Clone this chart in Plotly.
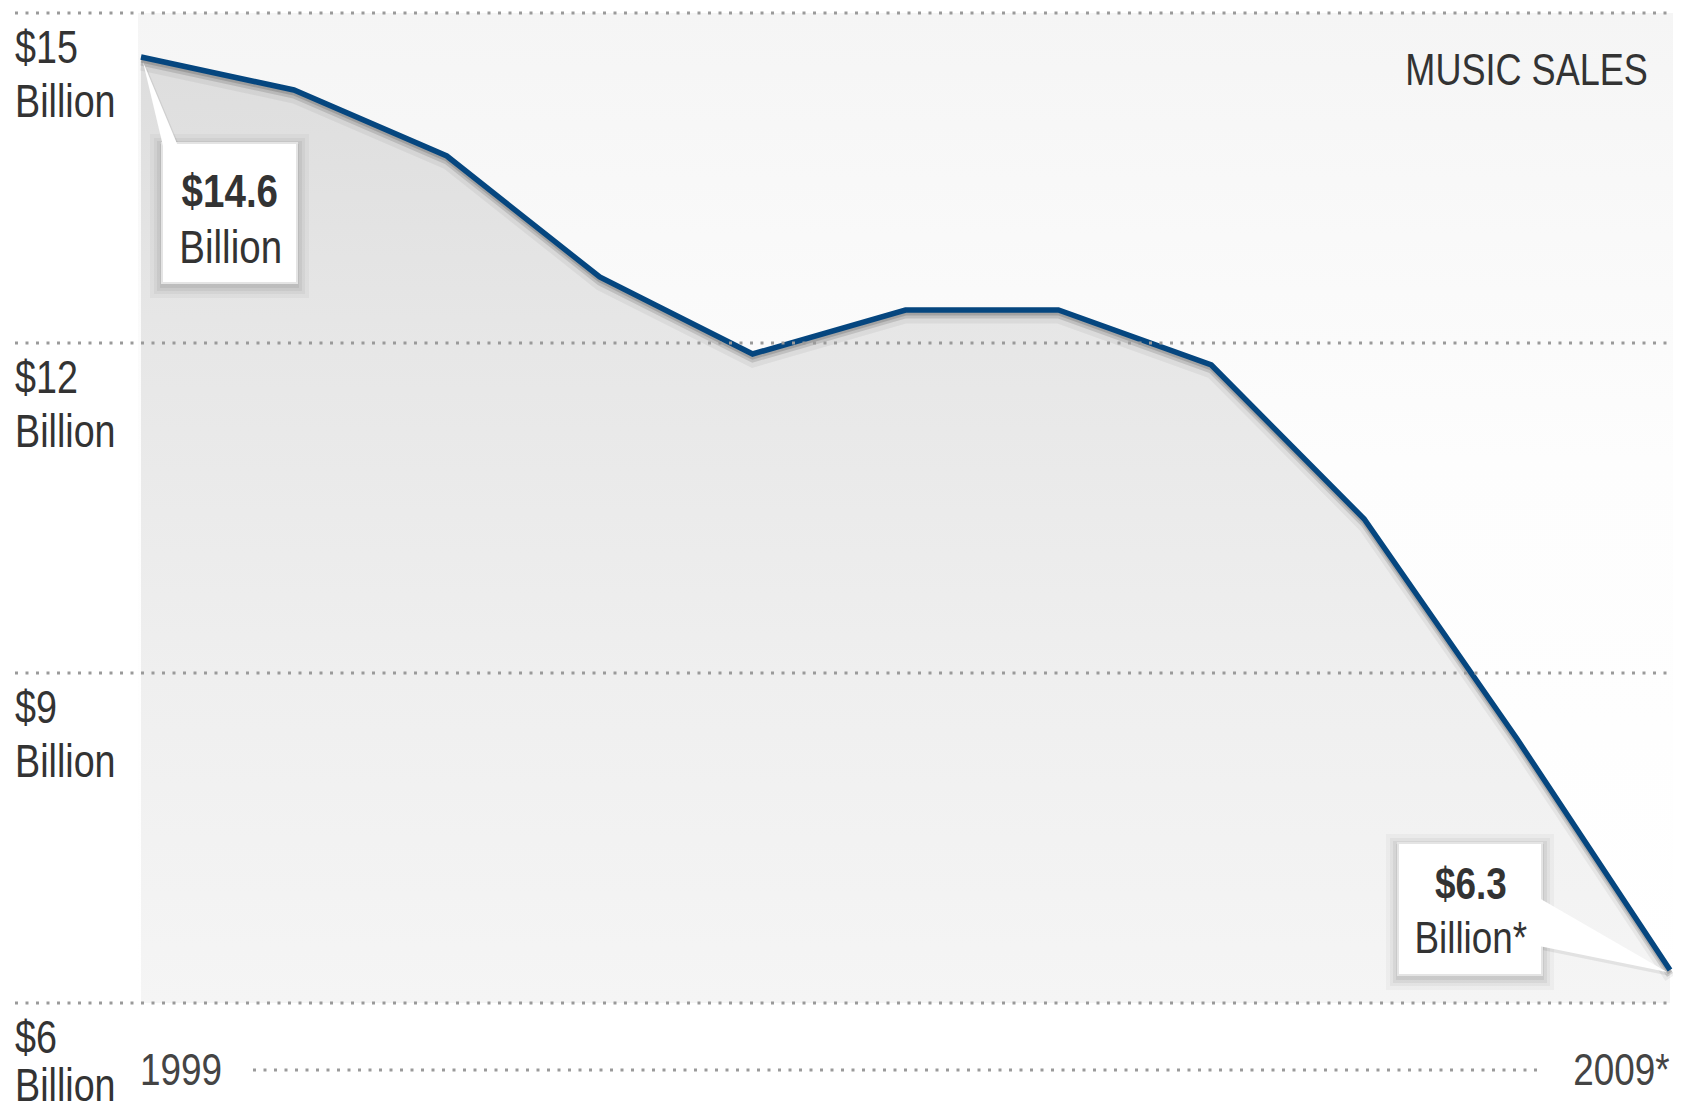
import plotly.graph_objects as go

# ---------------- data ----------------
years = [1999, 2000, 2001, 2002, 2003, 2004, 2005, 2006, 2007, 2008, 2009]
sales = [14.6, 14.3, 13.7, 12.6, 11.9, 12.3, 12.3, 11.8, 10.4, 8.4, 6.3]
y_ticks = [15, 12, 9, 6]
y_tick_text = ["$15", "$12", "$9", "$6"]
x_tick_text = ["1999", "2009*"]
title_text = "MUSIC SALES"
callout_first = ["$14.6", "Billion"]
callout_last = ["$6.3", "Billion*"]

# ---------------- pixel <-> data helpers (target-window pixels) ----------------
WIN_W, WIN_H = 1681, 1115
BODY = 8                      # default page margin around the plot div
W, H = WIN_W - 2 * BODY, WIN_H - 2 * BODY
PX0, PXS = 141.0, 152.9       # pixel of first year, pixels per year
PY0, PYS = 13.0, 110.0        # pixel of top tick, pixels per $1


def X(px):
    return years[0] + (px - PX0) / PXS


def Y(py):
    return y_ticks[0] - (py - PY0) / PYS


FONT = "Liberation Sans, Arial, sans-serif"
TXT = "#333333"

fig = go.Figure()

# background of plot area (light vertical gradient)
bx = [X(138), X(1673), X(1673), X(138), X(138)]
by = [y_ticks[-1], y_ticks[-1], y_ticks[0], y_ticks[0], y_ticks[-1]]
fig.add_trace(go.Scatter(
    x=bx, y=by, mode="lines", line=dict(width=0), fill="toself",
    fillgradient=dict(type="vertical", start=y_ticks[-1], stop=y_ticks[0],
                      colorscale=[[0, "#ffffff"], [0.55, "#fdfdfd"], [1, "#f5f5f5"]]),
    hoverinfo="skip", showlegend=False))

# baseline for the area
fig.add_trace(go.Scatter(
    x=years, y=[y_ticks[-1]] * len(years), mode="lines", line=dict(width=0),
    hoverinfo="skip", showlegend=False))
# area under the line
fig.add_trace(go.Scatter(
    x=years, y=sales, mode="lines", line=dict(width=0), fill="tonexty",
    fillgradient=dict(type="vertical", start=y_ticks[-1], stop=y_ticks[0],
                      colorscale=[[0, "#f5f5f5"], [0.33, "#efefef"], [0.66, "#e7e7e7"], [1, "#dcdcdc"]]),
    hoverinfo="skip", showlegend=False))

# soft shadow under the line
for off, w, a in [(8 / PYS, 11, 0.05), (5 / PYS, 7, 0.12), (3 / PYS, 5, 0.15)]:
    fig.add_trace(go.Scatter(
        x=years, y=[v - off for v in sales], mode="lines",
        line=dict(color=f"rgba(0,0,0,{a})", width=w),
        hoverinfo="skip", showlegend=False))

# main line
fig.add_trace(go.Scatter(
    x=years, y=sales, mode="lines",
    line=dict(color="#05467f", width=5.5),
    hoverinfo="skip", showlegend=False))

shapes = []
# dotted gridlines
for t in y_ticks:
    shapes.append(dict(type="line", xref="x", yref="y", x0=X(15), x1=X(1672), y0=t, y1=t,
                       line=dict(color="#9a9a9a", width=3, dash="3px,7.5px"), layer="above"))
# dotted line between year labels
shapes.append(dict(type="line", xref="x", yref="y", x0=X(253), x1=X(1542), y0=Y(1070), y1=Y(1070),
                   line=dict(color="#9a9a9a", width=3, dash="3px,7.5px"), layer="above"))


def rect(x0, y0, x1, y1, color, line=None):
    return dict(type="rect", xref="x", yref="y", x0=X(x0), x1=X(x1), y0=Y(y0), y1=Y(y1),
                fillcolor=color, line=line or dict(width=0), layer="above")


def poly(pts, color, line=None):
    d = "M " + " L ".join(f"{X(px)},{Y(py)}" for px, py in pts) + " Z"
    return dict(type="path", xref="x", yref="y", path=d, fillcolor=color,
                line=line or dict(width=0), layer="above")


def callout_box(x0, y0, x1, y1, wedge):
    out = []
    for e, a in [(12, 0.03), (8, 0.04), (5, 0.05), (2, 0.06)]:
        out.append(rect(x0 - e, y0 - e + 3, x1 + e, y1 + e + 3, f"rgba(0,0,0,{a})"))
    wshadow = [(px + 3, py + 4) for px, py in wedge]
    out.append(poly(wshadow, "rgba(0,0,0,0.07)"))
    out.append(rect(x0, y0, x1, y1, "#ffffff", dict(color="#e4e4e4", width=2)))
    out.append(poly(wedge, "#ffffff"))
    return out


# first-year callout
tip1_px = (PX0 + 2, PY0 + (y_ticks[0] - sales[0]) * PYS + 5)
shapes += callout_box(162, 143, 297, 283, [tip1_px, (163, 146), (178, 146)])
# last-year callout
tip2_px = (PX0 + (years[-1] - years[0]) * PXS - 3, PY0 + (y_ticks[0] - sales[-1]) * PYS + 2)
shapes += callout_box(1398, 843, 1542, 975, [(1539, 898), tip2_px, (1539, 946)])

annotations = []


def label(x, y, text, size, xanchor="left", color=TXT):
    annotations.append(dict(x=x, y=y, xref="x", yref="y", text=text, showarrow=False,
                            xanchor=xanchor, yanchor="middle", align=xanchor if xanchor != "center" else "center",
                            borderpad=0,
                            font=dict(family=FONT, size=size, color=color)))


# y-axis labels (the lowest "Billion" nudged up a little so it stays on the page)
for i, (t, s) in enumerate(zip(y_ticks, y_tick_text)):
    label(X(14), t - 34 / PYS, s, 46)
    shift = 82 if i == len(y_ticks) - 1 else 88
    label(X(14), t - shift / PYS, "Billion", 46)

# year labels
label(X(139), Y(1069), x_tick_text[0], 45, color="#444444")
label(X(1671), Y(1069), x_tick_text[1], 45, xanchor="right", color="#444444")

# title
label(X(1649), Y(69), title_text, 44, xanchor="right")

# callout texts
label(X(230), Y(190), f"<b>{callout_first[0]}</b>", 47, xanchor="center")
label(X(230), Y(246), callout_first[1], 47, xanchor="center")
label(X(1471), Y(883), f"<b>{callout_last[0]}</b>", 45, xanchor="center")
label(X(1471), Y(937), callout_last[1], 45, xanchor="center")

fig.update_layout(
    width=W, height=H,
    margin=dict(l=0, r=0, t=0, b=0, pad=0),
    paper_bgcolor="#ffffff", plot_bgcolor="#ffffff",
    xaxis=dict(range=[X(BODY), X(BODY + W)], visible=False, fixedrange=True),
    yaxis=dict(range=[Y(BODY + H), Y(BODY)], visible=False, fixedrange=True),
    shapes=shapes, annotations=annotations, showlegend=False,
)

# condensed look of the original (Arial-Narrow-like): squeeze text horizontally about its anchor
post = """
document.querySelectorAll('text.annotation-text').forEach(function(t){
  var x = parseFloat(t.getAttribute('x')) || 0;
  var ex = t.getAttribute('transform') || '';
  t.setAttribute('transform', ex + ' translate(' + x + ',0) scale(0.82,1) translate(' + (-x) + ',0)');
});
"""

fig.write_html("out.html", post_script=post, config={"displayModeBar": False, "staticPlot": True})
